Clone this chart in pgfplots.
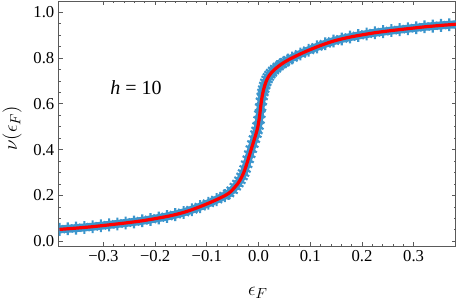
\documentclass[border=0pt]{standalone}
\usepackage{fontspec}
\setmainfont{Liberation Serif}
\usepackage{pgfplots}
\usepackage{pgfplotstable}
\pgfplotsset{compat=1.18}
\definecolor{bandblue}{RGB}{60,150,205}
\definecolor{framegray}{RGB}{90,90,90}
\pgfplotstableread{
e nu
-0.385 0.0520
-0.369 0.0547
-0.353 0.0575
-0.337 0.0606
-0.321 0.0638
-0.305 0.0678
-0.289 0.0718
-0.273 0.0759
-0.257 0.0801
-0.241 0.0847
-0.225 0.0895
-0.209 0.0954
-0.193 0.1018
-0.177 0.1085
-0.161 0.1165
-0.145 0.1260
-0.129 0.1378
-0.113 0.1513
-0.097 0.1660
-0.081 0.1820
-0.065 0.1995
-0.058 0.2090
-0.051 0.2230
-0.045 0.2385
-0.040 0.2520
-0.036 0.2664
-0.032 0.2832
-0.029 0.2980
-0.026 0.3160
-0.023 0.3364
-0.020 0.3580
-0.017 0.3802
-0.014 0.4024
-0.011 0.4246
-0.008 0.4464
-0.005 0.4680
-0.003 0.4840
-0.001 0.5035
0.001 0.5300
0.0025 0.5550
0.004 0.5850
0.0055 0.6110
0.007 0.6325
0.0085 0.6498
0.010 0.6640
0.012 0.6800
0.014 0.6936
0.0165 0.7066
0.019 0.7176
0.022 0.7276
0.025 0.7360
0.029 0.7456
0.033 0.7537
0.038 0.7632
0.044 0.7730
0.050 0.7820
0.057 0.7910
0.065 0.8005
0.081 0.8180
0.097 0.8340
0.113 0.8487
0.129 0.8622
0.145 0.8740
0.161 0.8835
0.177 0.8915
0.193 0.8982
0.209 0.9046
0.225 0.9105
0.241 0.9153
0.257 0.9199
0.273 0.9241
0.289 0.9282
0.305 0.9322
0.321 0.9362
0.337 0.9394
0.353 0.9425
0.369 0.9453
0.385 0.9480
}\nudata
\begin{document}
\begin{tikzpicture}
\path[use as bounding box] (-44.25pt,-43.5pt) rectangle (299.25pt,184.5pt);
\begin{axis}[
  at={(0,0)}, anchor=south west,
  scale only axis,
  width=297.75pt, height=183.75pt,
  xmin=-0.386, xmax=0.382,
  ymin=-0.0205, ymax=1.049,
  xtick={-0.3,-0.2,-0.1,0,0.1,0.2,0.3},
  xticklabels={−0.3,−0.2,−0.1,0.0,0.1,0.2,0.3},
  ytick={0,0.2,0.4,0.6,0.8,1.0},
  yticklabels={0.0,0.2,0.4,0.6,0.8,1.0},
  minor x tick num=4,
  minor y tick num=3,
  tick align=inside,
  major tick length=3.2pt,
  minor tick length=1.7pt,
  axis line style={framegray, line width=0.75pt},
  every tick/.style={framegray, line width=0.6pt},
  ticklabel style={font=\fontsize{12.5}{14}\selectfont, text=black},
  xlabel={$\epsilon_F$},
  ylabel={$\nu(\epsilon_F)$},
  label style={font=\fontsize{15}{17}\selectfont},
  xlabel style={at={(axis description cs:0.501,-0.192)}, anchor=center},
  ylabel style={at={(axis description cs:-0.118,0.48)}, anchor=center},
  clip=true,
  clip marker paths=true,
]
\addplot[bandblue, line width=6pt, line cap=round, line join=round, smooth] table[x=e,y=nu] {\nudata};
\addplot[only marks, mark=asterisk, mark size=4.8pt, mark options={bandblue, line width=1.6pt}] table[x=e,y=nu] {\nudata};
\addplot[red, line width=2.4pt, smooth] table[x=e,y=nu] {\nudata};
\node[font=\fontsize{15}{17}\selectfont] at (axis cs:-0.237,0.67) {\textit{h} = 10};
\end{axis}
\end{tikzpicture}
\end{document}
